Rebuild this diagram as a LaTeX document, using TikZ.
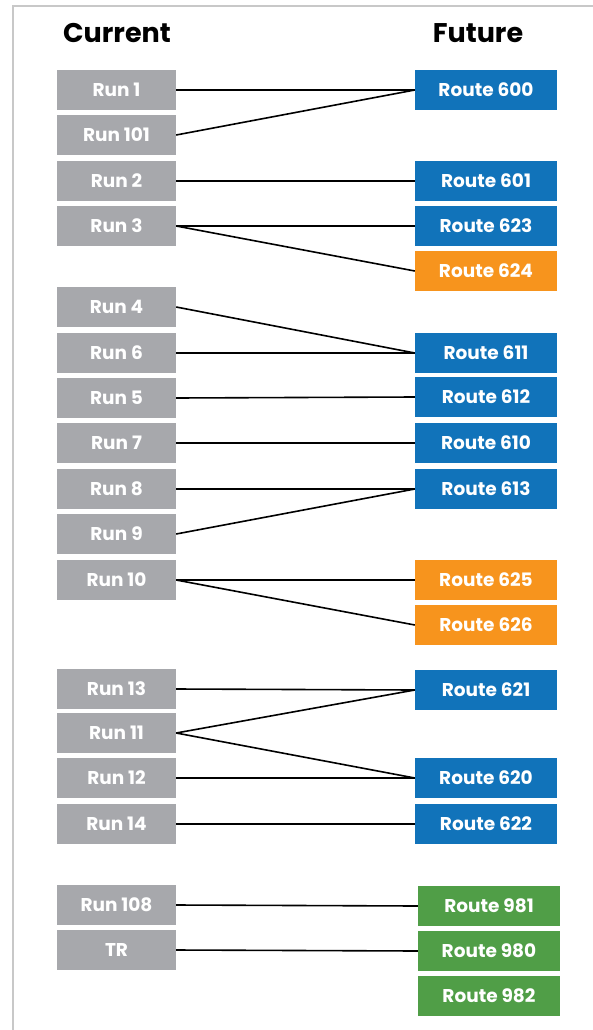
\documentclass[tikz,border=0pt]{standalone}
\usepackage{fontspec}
\setmainfont{Poppins}
\usepackage{tikz}
\usetikzlibrary{positioning}
\definecolor{rungray}{RGB}{167,168,172}
\definecolor{rtblue}{RGB}{17,115,186}
\definecolor{rtorange}{RGB}{247,148,29}
\definecolor{rtgreen}{RGB}{80,158,71}
\definecolor{framegray}{RGB}{200,200,200}
\tikzset{
  runbox/.style={rectangle, fill=rungray, text=white, minimum width=119pt,
    minimum height=40pt, inner sep=0pt, font=\fontsize{18.5}{20}\selectfont\bfseries},
  rtbox/.style={rectangle, text=white, minimum width=142pt,
    minimum height=40pt, inner sep=0pt, font=\fontsize{18.5}{20}\selectfont\bfseries},
  blue/.style={rtbox, fill=rtblue},
  orange/.style={rtbox, fill=rtorange},
  green/.style={rtbox, fill=rtgreen},
  heading/.style={font=\fontsize{27}{30}\selectfont\bfseries},
  link/.style={line width=1.6pt, color=black}
}
\begin{document}
\begin{tikzpicture}[x=1pt, y=-1pt]
    \useasboundingbox (0,0) rectangle (593,1030);
    % Frame
    \draw[framegray, line width=2pt] (593,6.5) -- (12.5,6.5) -- (12.5,1030);

    % Headings
    \node[heading] (cur) at (117,33) {Current};
    \node[heading] (fut) at (478,33) {Future};

    % Current runs
    \node[runbox] (run1) at (116.5,90) {Run 1};
    \node[runbox] (run101) at (116.5,135) {Run 101};
    \node[runbox] (run2) at (116.5,181) {Run 2};
    \node[runbox] (run3) at (116.5,226) {Run 3};
    \node[runbox] (run4) at (116.5,307) {Run 4};
    \node[runbox] (run6) at (116.5,353) {Run 6};
    \node[runbox] (run5) at (116.5,398) {Run 5};
    \node[runbox] (run7) at (116.5,443) {Run 7};
    \node[runbox] (run8) at (116.5,489) {Run 8};
    \node[runbox] (run9) at (116.5,534) {Run 9};
    \node[runbox] (run10) at (116.5,580) {Run 10};
    \node[runbox] (run13) at (116.5,689) {Run 13};
    \node[runbox] (run11) at (116.5,733) {Run 11};
    \node[runbox] (run12) at (116.5,778) {Run 12};
    \node[runbox] (run14) at (116.5,824) {Run 14};
    \node[runbox] (run108) at (116.5,905) {Run 108};
    \node[runbox] (runtr) at (116.5,950) {TR};

    % Future routes
    \node[blue] (rt600) at (486,90) {Route 600};
    \node[blue] (rt601) at (486,181) {Route 601};
    \node[blue] (rt623) at (486,226) {Route 623};
    \node[orange] (rt624) at (486,271) {Route 624};
    \node[blue] (rt611) at (486,353) {Route 611};
    \node[blue] (rt612) at (486,397) {Route 612};
    \node[blue] (rt610) at (486,443) {Route 610};
    \node[blue] (rt613) at (486,489) {Route 613};
    \node[orange] (rt625) at (486,580) {Route 625};
    \node[orange] (rt626) at (486,625) {Route 626};
    \node[blue] (rt621) at (486,690) {Route 621};
    \node[blue] (rt620) at (486,778) {Route 620};
    \node[blue] (rt622) at (486,824) {Route 622};
    \node[green] (rt981) at (489,906) {Route 981};
    \node[green] (rt980) at (489,951) {Route 980};
    \node[green] (rt982) at (489,996) {Route 982};

    % Links
    \draw[link] (run1.east) -- (rt600.west);
    \draw[link] (run101.east) -- (rt600.west);
    \draw[link] (run2.east) -- (rt601.west);
    \draw[link] (run3.east) -- (rt623.west);
    \draw[link] (run3.east) -- (rt624.west);
    \draw[link] (run4.east) -- (rt611.west);
    \draw[link] (run6.east) -- (rt611.west);
    \draw[link] (run5.east) -- (rt612.west);
    \draw[link] (run7.east) -- (rt610.west);
    \draw[link] (run8.east) -- (rt613.west);
    \draw[link] (run9.east) -- (rt613.west);
    \draw[link] (run10.east) -- (rt625.west);
    \draw[link] (run10.east) -- (rt626.west);
    \draw[link] (run13.east) -- (rt621.west);
    \draw[link] (run11.east) -- (rt621.west);
    \draw[link] (run11.east) -- (rt620.west);
    \draw[link] (run12.east) -- (rt620.west);
    \draw[link] (run14.east) -- (rt622.west);
    \draw[link] (run108.east) -- (rt981.west);
    \draw[link] (runtr.east) -- (rt980.west);
  \end{tikzpicture}
\end{document}
